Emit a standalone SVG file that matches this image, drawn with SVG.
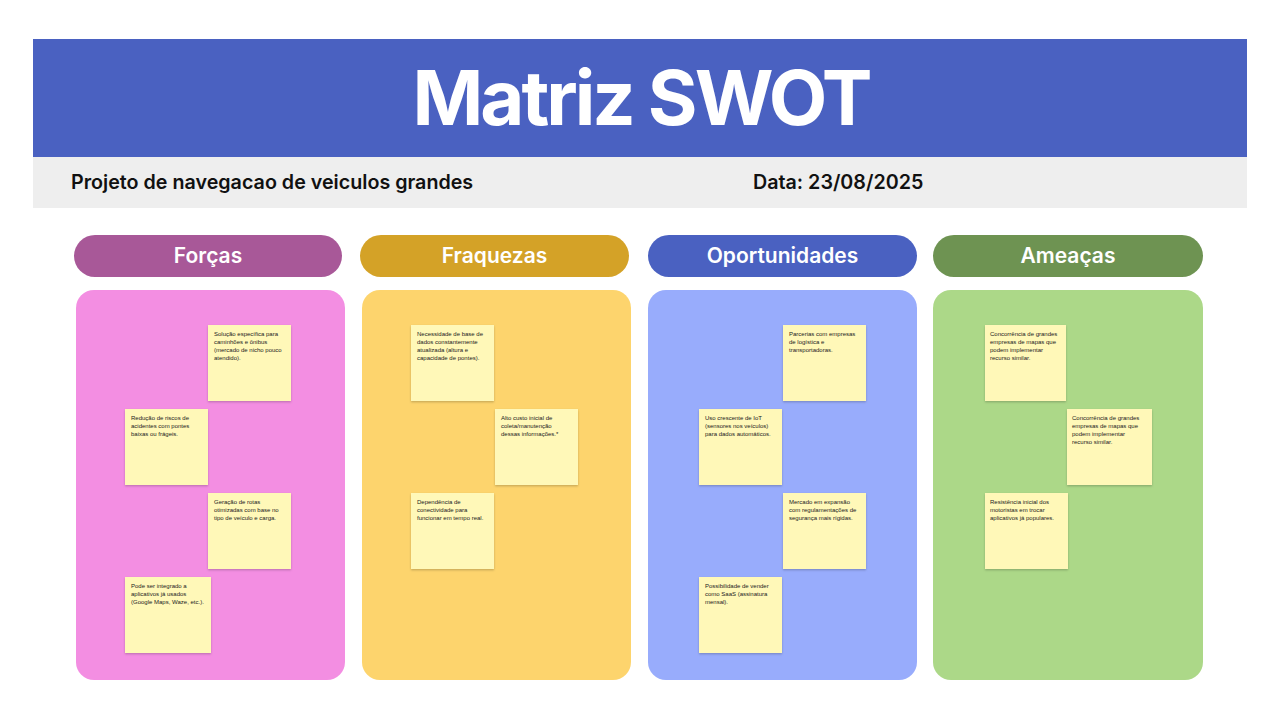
<svg xmlns="http://www.w3.org/2000/svg" width="1280" height="720" viewBox="0 0 1280 720">
  <defs>
    <filter id="noteShadow" x="-10%" y="-10%" width="120%" height="125%">
      <feDropShadow dx="0" dy="1.2" stdDeviation="0.8" flood-color="#000" flood-opacity="0.22"/>
    </filter>
  </defs>
  <style>
    .title { font-family: Inter, "DejaVu Sans", sans-serif; font-weight: 700; font-size: 76px; letter-spacing: -3px; fill: #ffffff; }
    .sub { font-family: Inter, "DejaVu Sans", sans-serif; font-weight: 600; font-size: 19.7px; fill: #111111; }
    .pill-label { font-family: Inter, "DejaVu Sans", sans-serif; font-weight: 600; font-size: 21px; fill: #ffffff; }
    .note rect { fill: #fff8b8; filter: url(#noteShadow); }
    .note text { font-family: "Liberation Sans", Arial, sans-serif; font-size: 6px; fill: #222222; }
  </style>

  <rect width="1280" height="720" fill="#ffffff"/>

  <!-- header banner -->
  <g id="header">
    <rect x="33" y="39" width="1214" height="119" fill="#4a61c1"/>
    <rect x="33" y="157" width="1214" height="51" fill="#eeeeee"/>
    <text class="title" x="641" y="125" text-anchor="middle">Matriz SWOT</text>
    <text class="sub" x="71" y="189">Projeto de navegacao de veiculos grandes</text>
    <text class="sub" x="753" y="189">Data: 23/08/2025</text>
  </g>

  <!-- quadrant headers -->
  <g id="pill-forcas">
    <rect x="74" y="235" width="268" height="42" rx="21" fill="#a85898"/>
    <text class="pill-label" x="208" y="263" text-anchor="middle">Forças</text>
  </g>
  <g id="pill-fraquezas">
    <rect x="360" y="235" width="269" height="42" rx="21" fill="#d4a227"/>
    <text class="pill-label" x="494.5" y="263" text-anchor="middle">Fraquezas</text>
  </g>
  <g id="pill-oportunidades">
    <rect x="648" y="235" width="269" height="42" rx="21" fill="#4a61c1"/>
    <text class="pill-label" x="782.5" y="263" text-anchor="middle">Oportunidades</text>
  </g>
  <g id="pill-ameacas">
    <rect x="933" y="235" width="270" height="42" rx="21" fill="#6e9352"/>
    <text class="pill-label" x="1068" y="263" text-anchor="middle">Ameaças</text>
  </g>

  <!-- quadrant boards -->
  <g id="board-forcas"><rect x="76" y="290" width="269" height="390" rx="18" fill="#f38ee2"/></g>
  <g id="board-fraquezas"><rect x="362" y="290" width="269" height="390" rx="18" fill="#fdd46d"/></g>
  <g id="board-oportunidades"><rect x="648" y="290" width="269" height="390" rx="18" fill="#98acfc"/></g>
  <g id="board-ameacas"><rect x="933" y="290" width="270" height="390" rx="18" fill="#acd888"/></g>

  <!-- Forças notes -->
  <g id="note-f1" class="note">
    <rect x="208" y="325" width="83" height="76"/>
    <text x="214" y="335.5"><tspan x="214">Solução específica para</tspan><tspan x="214" dy="8.3">caminhões e ônibus</tspan><tspan x="214" dy="8.3">(mercado de nicho pouco</tspan><tspan x="214" dy="8.3">atendido).</tspan></text>
  </g>
  <g id="note-f2" class="note">
    <rect x="125" y="409" width="83" height="76"/>
    <text x="131" y="419.5"><tspan x="131">Redução de riscos de</tspan><tspan x="131" dy="8.3">acidentes com pontes</tspan><tspan x="131" dy="8.3">baixas ou frágeis.</tspan></text>
  </g>
  <g id="note-f3" class="note">
    <rect x="208" y="493" width="83" height="76"/>
    <text x="214" y="503.5"><tspan x="214">Geração de rotas</tspan><tspan x="214" dy="8.3">otimizadas com base no</tspan><tspan x="214" dy="8.3">tipo de veículo e carga.</tspan></text>
  </g>
  <g id="note-f4" class="note">
    <rect x="125" y="577" width="86" height="76"/>
    <text x="131" y="587.5"><tspan x="131">Pode ser integrado a</tspan><tspan x="131" dy="8.3">aplicativos já usados</tspan><tspan x="131" dy="8.3">(Google Maps, Waze, etc.).</tspan></text>
  </g>

  <!-- Fraquezas notes -->
  <g id="note-w1" class="note">
    <rect x="411" y="325" width="83" height="76"/>
    <text x="417" y="335.5"><tspan x="417">Necessidade de base de</tspan><tspan x="417" dy="8.3">dados constantemente</tspan><tspan x="417" dy="8.3">atualizada (altura e</tspan><tspan x="417" dy="8.3">capacidade de pontes).</tspan></text>
  </g>
  <g id="note-w2" class="note">
    <rect x="495" y="409" width="83" height="76"/>
    <text x="501" y="419.5"><tspan x="501">Alto custo inicial de</tspan><tspan x="501" dy="8.3">coleta/manutenção</tspan><tspan x="501" dy="8.3">dessas informações.*</tspan></text>
  </g>
  <g id="note-w3" class="note">
    <rect x="411" y="493" width="83" height="76"/>
    <text x="417" y="503.5"><tspan x="417">Dependência de</tspan><tspan x="417" dy="8.3">conectividade para</tspan><tspan x="417" dy="8.3">funcionar em tempo real.</tspan></text>
  </g>

  <!-- Oportunidades notes -->
  <g id="note-o1" class="note">
    <rect x="783" y="325" width="83" height="76"/>
    <text x="789" y="335.5"><tspan x="789">Parcerias com empresas</tspan><tspan x="789" dy="8.3">de logística e</tspan><tspan x="789" dy="8.3">transportadoras.</tspan></text>
  </g>
  <g id="note-o2" class="note">
    <rect x="699" y="409" width="83" height="76"/>
    <text x="705" y="419.5"><tspan x="705">Uso crescente de IoT</tspan><tspan x="705" dy="8.3">(sensores nos veículos)</tspan><tspan x="705" dy="8.3">para dados automáticos.</tspan></text>
  </g>
  <g id="note-o3" class="note">
    <rect x="783" y="493" width="83" height="76"/>
    <text x="789" y="503.5"><tspan x="789">Mercado em expansão</tspan><tspan x="789" dy="8.3">com regulamentações de</tspan><tspan x="789" dy="8.3">segurança mais rígidas.</tspan></text>
  </g>
  <g id="note-o4" class="note">
    <rect x="699" y="577" width="83" height="76"/>
    <text x="705" y="587.5"><tspan x="705">Possibilidade de vender</tspan><tspan x="705" dy="8.3">como SaaS (assinatura</tspan><tspan x="705" dy="8.3">mensal).</tspan></text>
  </g>

  <!-- Ameaças notes -->
  <g id="note-t1" class="note">
    <rect x="985" y="325" width="81" height="76"/>
    <text x="990" y="335.5"><tspan x="990">Concorrência de grandes</tspan><tspan x="990" dy="8.3">empresas de mapas que</tspan><tspan x="990" dy="8.3">podem implementar</tspan><tspan x="990" dy="8.3">recurso similar.</tspan></text>
  </g>
  <g id="note-t2" class="note">
    <rect x="1067" y="409" width="85" height="76"/>
    <text x="1072" y="419.5"><tspan x="1072">Concorrência de grandes</tspan><tspan x="1072" dy="8.3">empresas de mapas que</tspan><tspan x="1072" dy="8.3">podem implementar</tspan><tspan x="1072" dy="8.3">recurso similar.</tspan></text>
  </g>
  <g id="note-t3" class="note">
    <rect x="985" y="493" width="83" height="76"/>
    <text x="990" y="503.5"><tspan x="990">Resistência inicial dos</tspan><tspan x="990" dy="8.3">motoristas em trocar</tspan><tspan x="990" dy="8.3">aplicativos já populares.</tspan></text>
  </g>

  <!-- no connectors in this layout -->
  <g id="connectors"/>
</svg>
